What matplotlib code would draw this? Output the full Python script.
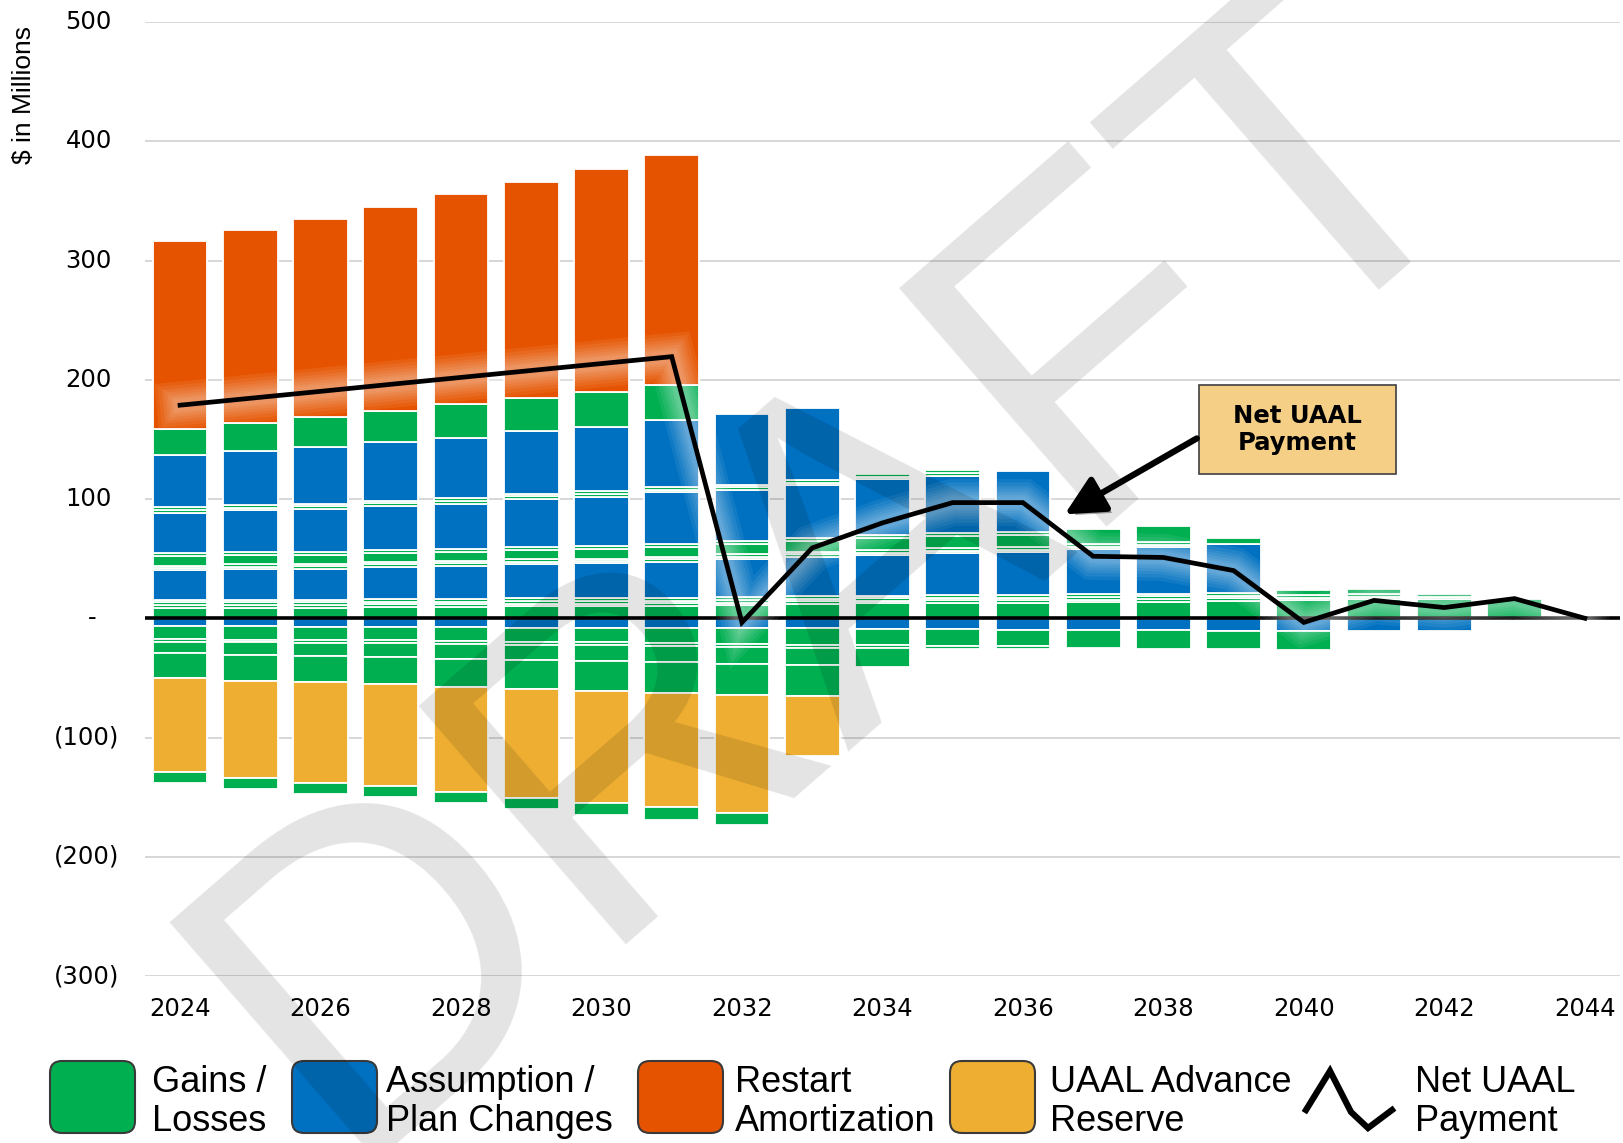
import numpy as np
import matplotlib
matplotlib.use("Agg")
import matplotlib.pyplot as plt
import matplotlib.patheffects as pe
from matplotlib.patches import FancyBboxPatch, Rectangle
from matplotlib.lines import Line2D

years = list(range(2024, 2045))

# positive layers, stacked upward from zero (bottom -> top)
gl_base  = [9, 9, 9, 9.5, 9.5, 10, 10, 10.5, 11, 12, 12.5, 13, 13, 13.5, 14, 14.5, 15, 16, 16, 16, 0]
thin_1a  = [2.2] * 16 + [2.2, 2.2, 2.2, 0, 0]
thin_1b  = [2.2] * 16 + [2.2, 2.2, 0, 0, 0]
thin_1c  = [2.2] * 16 + [0, 0, 0, 0, 0]
assump_1 = [24.5, 25.5, 26, 27, 28, 29, 29.5, 30.5, 32, 33, 34, 35, 36, 38, 39, 41, 0, 0, 0, 0, 0]
thin_2a  = [2] * 15 + [0] * 6
thin_2b  = [2] * 15 + [0] * 6
gl_2     = [8, 8, 7.5, 7.5, 7.5, 8, 8, 8.5, 8.5, 9, 10, 10.5, 10.5, 12.5, 14, 5, 4.5, 4.5, 2, 0, 0]
thin_3   = [2.5] * 13 + [0] * 8
assump_2 = [34, 35, 36, 37, 38, 40, 41.5, 43, 43, 44.5, 47, 48, 51, 0, 0, 0, 0, 0, 0, 0, 0]
thin_4a  = [2.2] * 12 + [0] * 9
thin_4b  = [2.2] * 12 + [0] * 9
assump_3 = [44, 45.5, 47.5, 49, 51, 52.5, 54, 56, 59.5, 60] + [0] * 11
gl_3     = [22, 23.5, 25.5, 26, 28, 28, 29.5, 30] + [0] * 13
restart  = [157, 162, 166, 171, 176, 181, 187, 192.5] + [0] * 13

# negative layers, stacked downward from zero
neg_assump = [-6.5, -6.8, -7, -7.2, -7.6, -7.8, -8, -8.2, -8.2, -8.5, -8.8, -9.2, -9.6, -9.8, -10, -10.4, -11, -11, -11, 0, 0]
neg_gl_1   = [-10.5, -11, -11, -11, -11.5, -12, -12, -12.5, -13, -14, -13.5, -14, -14, -15, -15.5, -15.5, -16, 0, 0, 0, 0]
neg_thin   = [-2.5] * 13 + [0] * 8
neg_gl_2   = [-10, -10.5, -11, -11.5, -12.5, -12.5, -13, -13.5, -14.3, -14.4, -16] + [0] * 10
neg_gl_3   = [-21, -21.5, -22, -22.5, -23.5, -24.5, -25.5, -26.3, -26, -26] + [0] * 11
reserve    = [-78.5, -81.5, -84.5, -86, -88.2, -91.5, -94, -95, -99, -50.5] + [0] * 11
neg_gl_4   = [-9, -9, -9, -9, -9.5, -9.5, -10, -11, -10.5, 0] + [0] * 11

net_payment = [178.7, 184.5, 190.3, 196.2, 202, 207.8, 213.6, 219.4, -3.5, 59, 80, 97, 97,
               52, 51, 40, -3.5, 15, 9, 16.5, 0]

y_ticks = [-300, -200, -100, 0, 100, 200, 300, 400, 500]
x_ticks = list(range(2024, 2045, 2))

GREEN = "#00AF50"
BLUE = "#0070C0"
ORANGE = "#E65300"
YELLOW = "#EDAE32"

pos_layers = [(gl_base, GREEN), (thin_1a, GREEN), (thin_1b, GREEN), (thin_1c, GREEN),
              (assump_1, BLUE), (thin_2a, GREEN), (thin_2b, GREEN), (gl_2, GREEN),
              (thin_3, GREEN), (assump_2, BLUE), (thin_4a, GREEN), (thin_4b, GREEN),
              (assump_3, BLUE), (gl_3, GREEN), (restart, ORANGE)]
neg_layers = [(neg_assump, BLUE), (neg_gl_1, GREEN), (neg_thin, GREEN), (neg_gl_2, GREEN),
              (neg_gl_3, GREEN), (reserve, YELLOW), (neg_gl_4, GREEN)]

fig = plt.figure(figsize=(16.23, 11.43), dpi=100)
ax = fig.add_axes([0.0893, 0.1461, 0.9088, 0.8346])

x = np.array(years)
for layers in (pos_layers, neg_layers):
    bottom = np.zeros(len(x))
    for vals, col in layers:
        v = np.array(vals, dtype=float)
        m = v != 0
        ax.bar(x[m], v[m], bottom=bottom[m], width=0.78, color=col,
               edgecolor="white", linewidth=1.3, zorder=2)
        bottom += v

ax.axhline(0, color="black", lw=2.6, zorder=5)

# soft white glow around the net line
glow = [pe.Stroke(linewidth=w, foreground="white", alpha=0.07) for w in (34, 29, 24, 20, 16, 12, 9)]
glow.append(pe.Normal())
ax.plot(x, net_payment, color="black", lw=3.4, zorder=6, path_effects=glow,
        solid_joinstyle="miter")

ax.set_xlim(2023.5, 2044.5)
ax.set_ylim(-300, 500)
ax.set_yticks(y_ticks)
ax.set_yticklabels([])
ax.yaxis.grid(True, color="#D4D4D4", lw=1.3)
ax.set_axisbelow(True)
for s in ax.spines.values():
    s.set_visible(False)
ax.tick_params(length=0)
ax.set_xticks(x_ticks)
ax.set_xticklabels([str(t) for t in x_ticks], fontsize=17.5, family="DejaVu Sans")
ax.tick_params(axis="x", pad=15)

ytr = ax.get_yaxis_transform()
for t in y_ticks:
    if t > 0:
        ax.text(-0.0224, t, str(t), transform=ytr, ha="right", va="center", fontsize=17.5)
    elif t < 0:
        ax.text(-0.0176, t, "(%d)" % -t, transform=ytr, ha="right", va="center", fontsize=17.5)
    else:
        ax.text(-0.0359, t, "-", transform=ytr, ha="center", va="center", fontsize=17.5)

fig.text(0.0145, 0.917, "$ in Millions", rotation=90, ha="center", va="center",
         fontsize=19, family=["Liberation Sans Narrow", "Liberation Sans"])

# annotation box with arrow
ax.add_patch(Rectangle((2038.51, 120.7), 2.8, 74.6, facecolor="#F5CF85",
                       edgecolor="#404040", lw=1.2, zorder=7))
ax.text(2039.91, 158, "Net UAAL\nPayment", ha="center", va="center", fontsize=17.5,
        fontweight="bold", family="DejaVu Sans", linespacing=1.15, zorder=8)
arr = ax.annotate("", xy=(2036.56, 86), xytext=(2038.51, 152),
                  arrowprops=dict(arrowstyle="-|>,head_length=1.2,head_width=0.6",
                                  lw=4.5, color="black", mutation_scale=20), zorder=7)
arr.arrow_patch.set_path_effects([pe.SimplePatchShadow(offset=(3, -3), alpha=0.35), pe.Normal()])

# DRAFT watermark
fig.text(0.516, 0.501, "DRAFT", rotation=41, rotation_mode="anchor", ha="center", va="center",
         fontsize=330, family="Liberation Sans", color=(0, 0, 0, 0.11), zorder=10)

# legend
swatches = [(0.50, GREEN, "Gains /\nLosses", 1.52),
            (2.92, BLUE, "Assumption /\nPlan Changes", 3.86),
            (6.38, ORANGE, "Restart\nAmortization", 7.35),
            (9.50, YELLOW, "UAAL Advance\nReserve", 10.50)]
for x0, col, lab, tx in swatches:
    fig.patches.append(FancyBboxPatch((x0, 0.10), 0.85, 0.72,
                                      boxstyle="round,pad=0,rounding_size=0.12",
                                      facecolor=col, edgecolor="#3A3A3A", lw=1.5,
                                      transform=fig.dpi_scale_trans, figure=fig))
    fig.text(tx, 0.41, lab, transform=fig.dpi_scale_trans, ha="left", va="center",
             fontsize=26, family="Liberation Sans", linespacing=1.15)
fig.lines.append(Line2D([13.06, 13.30, 13.51, 13.68, 13.92], [0.33, 0.72, 0.31, 0.15, 0.33],
                        color="black", lw=4.5, transform=fig.dpi_scale_trans, figure=fig,
                        solid_joinstyle="miter"))
fig.text(14.15, 0.41, "Net UAAL\nPayment", transform=fig.dpi_scale_trans, ha="left",
         va="center", fontsize=26, family="Liberation Sans", linespacing=1.15)

fig.savefig("out.png", dpi=100)
